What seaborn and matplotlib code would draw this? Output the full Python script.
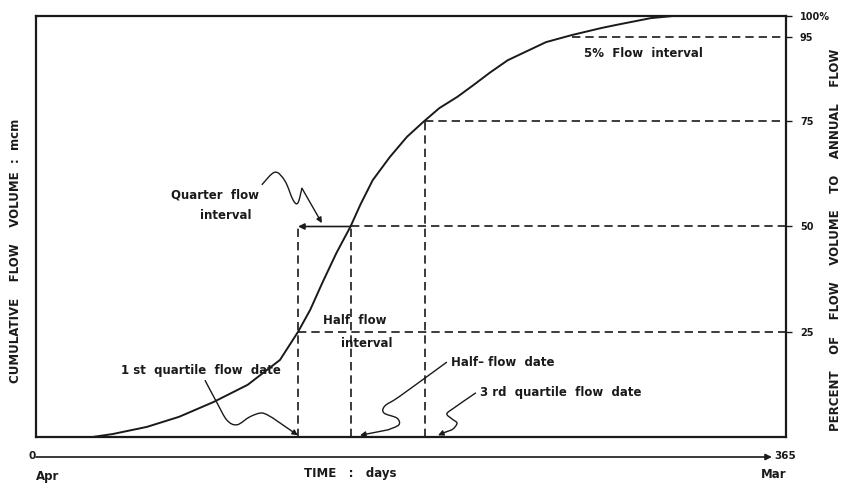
import numpy as np
import matplotlib
matplotlib.use("Agg")
import matplotlib.pyplot as plt
from matplotlib.path import Path
from matplotlib.patches import PathPatch
import pandas as pd
import seaborn as sns

# ---- data ----
days = [28, 38, 55, 71, 88, 105, 121, 130, 136, 142, 149, 156, 161, 167, 175.5, 184,
        192, 200, 209, 217, 225, 234, 253, 266, 280, 288, 305, 316]
cum_pct = [0, 0.7, 2.4, 4.8, 8.3, 12.4, 18.3, 25, 30.2, 36.6, 43.7, 50, 55.3, 61, 66.5, 71.3,
           74.8, 78.1, 80.8, 83.6, 86.5, 89.5, 93.8, 95.5, 97.1, 97.9, 99.5, 100]
quartile_days = [130, 156, 193]      # 1st quartile, half-flow, 3rd quartile dates
quartile_pcts = [25, 50, 75]
day95 = 266
right_ticks = [25, 50, 75, 95, 100]
right_labels = ["25", "50", "75", "95", "100%"]

sns.set_style("white")
plt.rcParams["font.family"] = ["DejaVu Sans"]
INK = "#1a1a1a"

fig = plt.figure(figsize=(8.45, 4.88), dpi=100)
ax = fig.add_axes([36 / 845, 51 / 488, 750 / 845, 421 / 488])
fig.patch.set_facecolor("white")

df = pd.DataFrame({"day": days, "pct": cum_pct})
sns.lineplot(data=df, x="day", y="pct", ax=ax, color=INK, lw=1.4)

ax.set_xlim(0, 372)
ax.set_ylim(0, 100)
ax.set_xlabel("")
ax.set_ylabel("")
for s in ax.spines.values():
    s.set_color(INK)
    s.set_linewidth(1.6)
ax.set_xticks([])
ax.yaxis.tick_right()
ax.set_yticks(right_ticks)
ax.set_yticklabels(right_labels, fontsize=7, fontweight="bold", color=INK)
ax.tick_params(axis="y", right=True, length=4, width=1, color=INK, pad=6, direction="out")

XMAX = 372
dash = (0, (5, 3))
kw = dict(color=INK, lw=1.2, linestyle=dash)
# horizontal dashed lines
ax.plot([quartile_days[0], XMAX], [quartile_pcts[0]] * 2, **kw)
ax.plot([quartile_days[1], XMAX], [quartile_pcts[1]] * 2, **kw)
ax.plot([quartile_days[2], XMAX], [quartile_pcts[2]] * 2, **kw)
ax.plot([day95, XMAX], [95, 95], **kw)
# vertical dashed lines
ax.plot([quartile_days[0], quartile_days[0]], [0, quartile_pcts[1]], **kw)
ax.plot([quartile_days[1], quartile_days[1]], [0, quartile_pcts[1]], **kw)
ax.plot([quartile_days[2], quartile_days[2]], [0, quartile_pcts[2]], **kw)

# quarter flow interval arrow
ax.annotate("", xy=(quartile_days[0], 50), xytext=(quartile_days[1], 50),
            arrowprops=dict(arrowstyle="-|>", color=INK, lw=1.2, mutation_scale=9,
                            shrinkA=0, shrinkB=0))

def leader(pts):
    pts = np.asarray(pts, dtype=float)
    body = pts[:-1]
    verts = [tuple(body[0])]
    codes = [Path.MOVETO]
    n = len(body)
    for i in range(n - 1):
        p0 = body[i - 1] if i > 0 else body[i]
        p1 = body[i]
        p2 = body[i + 1]
        p3 = body[i + 2] if i + 2 < n else body[i + 1]
        c1 = p1 + (p2 - p0) / 6
        c2 = p2 - (p3 - p1) / 6
        verts += [tuple(c1), tuple(c2), tuple(p2)]
        codes += [Path.CURVE4] * 3
    ax.add_patch(PathPatch(Path(verts, codes), fill=False, edgecolor=INK, lw=1.0))
    ax.annotate("", xy=tuple(pts[-1]), xytext=tuple(pts[-2]),
                arrowprops=dict(arrowstyle="-|>", color=INK, lw=1.0, mutation_scale=8,
                                shrinkA=0, shrinkB=0))

leader([(112, 59.9), (118.5, 62.9), (123.5, 60.8), (127.5, 56.3), (129.9, 55.6),
        (131.9, 59.1), (141.8, 50.8)])
leader([(83.8, 13.5), (89.8, 8.1), (94.7, 4.0), (99.7, 2.9), (106.1, 4.8),
        (112.1, 5.7), (117.5, 4.5), (129.9, 0.4)])
leader([(203.8, 17.8), (180.5, 9.7), (173.1, 7.4), (172.6, 5.7), (179.0, 4.5),
        (180.0, 2.9), (174.6, 1.7), (160.7, 0.4)])
leader([(218.2, 10.5), (207.3, 6.9), (203.8, 5.5), (206.3, 4.3), (208.8, 3.3),
        (206.8, 1.9), (203.3, 1.2), (199.4, 0.4)])

tk = dict(fontsize=8.5, fontweight="bold", color=INK)
ax.text(89, 57.5, "Quarter  flow", ha="center", va="center", **tk)
ax.text(94, 52.5, "interval", ha="center", va="center", **tk)
ax.text(158, 27.6, "Half  flow", ha="center", va="center", **tk)
ax.text(164, 22.3, "interval", ha="center", va="center", **tk)
ax.text(82, 15.7, "1 st  quartile  flow  date", ha="center", va="center", **tk)
ax.text(206, 17.6, "Half\u2013 flow  date", ha="left", va="center", **tk)
ax.text(220, 10.5, "3 rd  quartile  flow  date", ha="left", va="center", **tk)
ax.text(272, 91.2, "5%  Flow  interval", ha="left", va="center", **tk)

# time axis below the frame
xt = ax.get_xaxis_transform()
ax.annotate("", xy=(365, -0.0475), xytext=(0, -0.0475), xycoords=xt, textcoords=xt,
            arrowprops=dict(arrowstyle="-|>", color=INK, lw=1.2, mutation_scale=9,
                            shrinkA=0, shrinkB=0), annotation_clip=False)
small = dict(fontsize=7.5, fontweight="bold", color=INK)
ax.text(0, -0.044, "0", transform=xt, ha="right", va="center", **small)
ax.text(366, -0.044, "365", transform=xt, ha="left", va="center", **small)
ax.text(0, -0.093, "Apr", transform=xt, ha="left", va="center", **tk)
ax.text(372, -0.09, "Mar", transform=xt, ha="right", va="center", **tk)
ax.text(156, -0.086, "TIME   :   days", transform=xt, ha="center", va="center", **tk)

fig.text(0.0178, 0.486, "CUMULATIVE    FLOW    VOLUME  :  mcm", rotation=90,
         ha="center", va="center", fontsize=8.5, fontweight="bold", color=INK)
fig.text(0.989, 0.508, "PERCENT    OF    FLOW    VOLUME    TO    ANNUAL    FLOW", rotation=90,
         ha="center", va="center", fontsize=8.5, fontweight="bold", color=INK)

fig.savefig("out.png", dpi=100, facecolor="white")
